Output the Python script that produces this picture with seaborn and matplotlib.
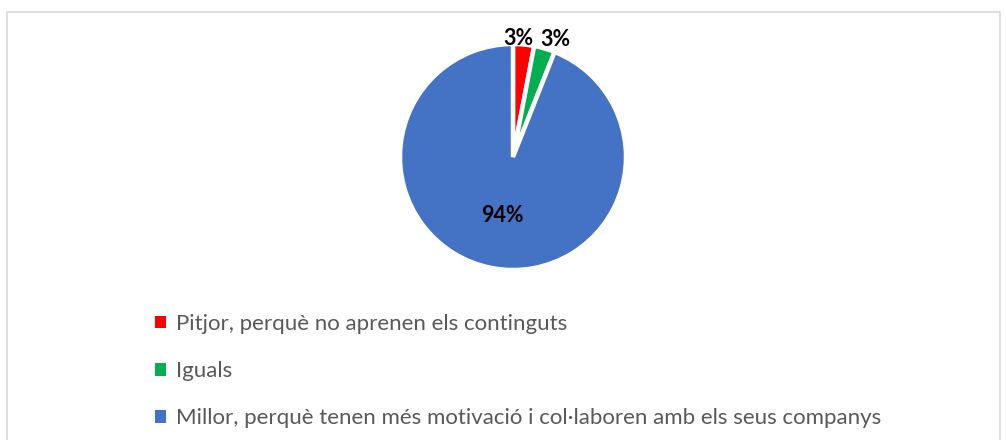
import numpy as np
import matplotlib
matplotlib.use("Agg")
import matplotlib.pyplot as plt
from matplotlib.patches import Patch, Rectangle
import seaborn as sns

categories = ["Pitjor, perquè no aprenen els continguts",
              "Iguals",
              "Millor, perquè tenen més motivació i col·laboren amb els seus companys"]
values = [3, 3, 94]
labels = ["3%", "3%", "94%"]
colors = ["#FF0000", "#00B050", "#4472C4"]

sns.set_theme(style="white")
plt.rcParams['font.family'] = ['Lato', 'DejaVu Sans']

W, H = 1006, 440
fig = plt.figure(figsize=(W / 100, H / 100), dpi=100)
fig.patch.set_facecolor("white")

# chart border
fig.add_artist(Rectangle((7 / W, -0.05), (1000 - 7) / W, 1.05 - 12 / H,
                         transform=fig.transFigure, fill=False,
                         edgecolor="#d9d9d9", linewidth=1.2))

cx, cy, r = 513, 157, 113
ax = fig.add_axes([(cx - r) / W, (H - cy - r) / H, 2 * r / W, 2 * r / H])
wedges, _ = ax.pie(values, colors=colors, startangle=90, counterclock=False,
                   wedgeprops=dict(edgecolor="white", linewidth=3.2),
                   radius=1)
ax.set_xlim(-1, 1)
ax.set_ylim(-1, 1)
ax.set_aspect("equal")
ax.axis("off")

small_shift = [(-6, -5), (8, -2)]
k = 0
for w, lab in zip(wedges, labels):
    mid = np.deg2rad((w.theta1 + w.theta2) / 2)
    frac = (w.theta2 - w.theta1) / 360
    if frac < 0.1:
        rr = 1.1
        dx, dy = small_shift[k]
        k += 1
    else:
        rr = 0.52
        dx, dy = 0, -1
    ax.annotate(lab, (rr * np.cos(mid), rr * np.sin(mid)), xytext=(dx, dy),
                textcoords="offset pixels", ha="center", va="center",
                fontsize=15.5, fontweight="bold", color="black",
                annotation_clip=False)

handles = [Patch(facecolor=c, edgecolor="none") for c in colors]
leg = fig.legend(handles, categories, loc="upper left",
                 bbox_to_anchor=(155 / W, 1 - 314 / H),
                 frameon=False, fontsize=16, handlelength=0.5, handleheight=0.5,
                 handletextpad=0.45, labelspacing=1.22, borderaxespad=0, borderpad=0)
for t in leg.get_texts():
    t.set_color("#595959")

fig.savefig("out.png", dpi=100)
